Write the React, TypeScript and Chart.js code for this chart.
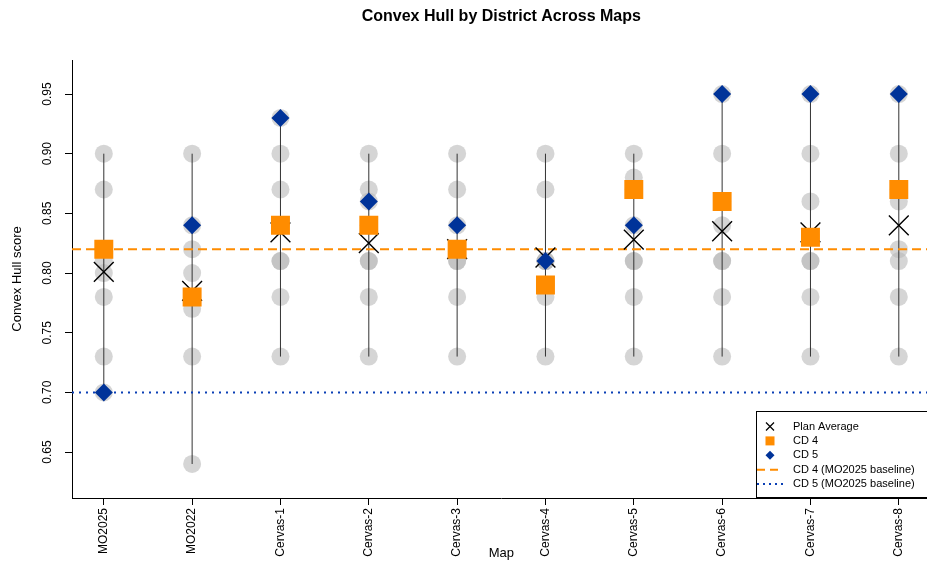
import React, { useEffect, useRef } from "react";
import { Chart, registerables } from "chart.js";

Chart.register(...registerables);

// ---------- data ----------
const maps = ["MO2025", "MO2022", "Cervas-1", "Cervas-2", "Cervas-3", "Cervas-4", "Cervas-5", "Cervas-6", "Cervas-7", "Cervas-8"];
const yTicks = [0.65, 0.7, 0.75, 0.8, 0.85, 0.9, 0.95];
const planAverage = [0.801, 0.785, 0.834, 0.825, 0.82, 0.813, 0.828, 0.835, 0.834, 0.84];
const cd4Scores = [0.82, 0.78, 0.84, 0.84, 0.82, 0.79, 0.87, 0.86, 0.83, 0.87];
const cd5Scores = [0.7, 0.84, 0.93, 0.86, 0.84, 0.81, 0.84, 0.95, 0.95, 0.95];
const cd4Baseline = 0.82;
const cd5Baseline = 0.7;
const districtScores: number[][] = [
  [0.9, 0.87, 0.82, 0.81, 0.8, 0.78, 0.73, 0.7],
  [0.9, 0.84, 0.82, 0.8, 0.78, 0.77, 0.73, 0.64],
  [0.93, 0.9, 0.87, 0.84, 0.81, 0.81, 0.78, 0.73],
  [0.9, 0.87, 0.86, 0.84, 0.81, 0.81, 0.78, 0.73],
  [0.9, 0.87, 0.84, 0.82, 0.81, 0.81, 0.78, 0.73],
  [0.9, 0.87, 0.81, 0.81, 0.81, 0.79, 0.78, 0.73],
  [0.9, 0.88, 0.87, 0.84, 0.81, 0.81, 0.78, 0.73],
  [0.95, 0.9, 0.86, 0.84, 0.81, 0.81, 0.78, 0.73],
  [0.95, 0.9, 0.86, 0.83, 0.81, 0.81, 0.78, 0.73],
  [0.95, 0.9, 0.87, 0.86, 0.82, 0.81, 0.78, 0.73],
];

const X_MIN = 0.64;
const X_MAX = 10.36;
const Y_MIN = 0.6115;
const Y_MAX = 0.9785;

const ORANGE = "#FF8C00";
const BLUE = "#003399";
const BLUE_LINE = "#0a3fb5";
const FONT = "'Liberation Sans', Arial, Helvetica, sans-serif";

const CANVAS_W = 946;
const CANVAS_H = 563;

const annotations = {
  id: "annotations",
  afterDraw(chart: any) {
    const { ctx, chartArea: ca, scales } = chart;
    const yS = scales.y;
    ctx.save();
    ctx.fillStyle = "#000";
    // title
    ctx.font = `bold 16px ${FONT}`;
    ctx.textAlign = "center";
    ctx.textBaseline = "middle";
    ctx.fillText("Convex Hull by District Across Maps", (ca.left + ca.right) / 2, 17);
    // y tick labels (rotated)
    ctx.font = `12px ${FONT}`;
    yTicks.forEach((v) => {
      const py = yS.getPixelForValue(v);
      ctx.save();
      ctx.translate(48, py);
      ctx.rotate(-Math.PI / 2);
      ctx.textAlign = "center";
      ctx.textBaseline = "middle";
      ctx.fillText(v.toFixed(2), 0, 0);
      ctx.restore();
    });
    // axis titles
    ctx.font = `13px ${FONT}`;
    ctx.save();
    ctx.translate(17, (ca.top + ca.bottom) / 2);
    ctx.rotate(-Math.PI / 2);
    ctx.textAlign = "center";
    ctx.textBaseline = "middle";
    ctx.fillText("Convex Hull score", 0, 0);
    ctx.restore();
    ctx.textAlign = "center";
    ctx.textBaseline = "middle";
    ctx.fillText("Map", (ca.left + ca.right) / 2, 553);

    // legend
    const lx = 756.5;
    const ly = 411.5;
    const rx = ca.right + 0.5;
    const by = ca.bottom - 0.5;
    ctx.fillStyle = "#fff";
    ctx.fillRect(lx, ly, rx - lx, by - ly);
    ctx.strokeStyle = "#000";
    ctx.lineWidth = 1;
    ctx.setLineDash([]);
    ctx.strokeRect(lx, ly, rx - lx, by - ly);
    const labels = ["Plan Average", "CD 4", "CD 5", "CD 4 (MO2025 baseline)", "CD 5 (MO2025 baseline)"];
    const sx = 770;
    labels.forEach((lab, k) => {
      const y = ly + 15 + k * 14.4;
      ctx.setLineDash([]);
      if (k === 0) {
        ctx.strokeStyle = "#000";
        ctx.lineWidth = 1.2;
        ctx.beginPath();
        ctx.moveTo(sx - 4, y - 4);
        ctx.lineTo(sx + 4, y + 4);
        ctx.moveTo(sx + 4, y - 4);
        ctx.lineTo(sx - 4, y + 4);
        ctx.stroke();
      } else if (k === 1) {
        ctx.fillStyle = ORANGE;
        ctx.fillRect(sx - 4.5, y - 4.5, 9, 9);
      } else if (k === 2) {
        ctx.fillStyle = BLUE;
        ctx.beginPath();
        ctx.moveTo(sx, y - 4.5);
        ctx.lineTo(sx + 4.5, y);
        ctx.lineTo(sx, y + 4.5);
        ctx.lineTo(sx - 4.5, y);
        ctx.closePath();
        ctx.fill();
      } else if (k === 3) {
        ctx.strokeStyle = ORANGE;
        ctx.lineWidth = 2;
        ctx.setLineDash([8, 5]);
        ctx.beginPath();
        ctx.moveTo(757, y);
        ctx.lineTo(783, y);
        ctx.stroke();
      } else {
        ctx.strokeStyle = BLUE_LINE;
        ctx.lineWidth = 2;
        ctx.setLineDash([2, 4]);
        ctx.beginPath();
        ctx.moveTo(757, y);
        ctx.lineTo(783, y);
        ctx.stroke();
      }
      ctx.setLineDash([]);
      ctx.fillStyle = "#000";
      ctx.font = `11px ${FONT}`;
      ctx.textAlign = "left";
      ctx.textBaseline = "middle";
      ctx.fillText(lab, 793, y);
    });
    ctx.restore();
  },
};

export default function App() {
  const ref = useRef<HTMLCanvasElement | null>(null);

  useEffect(() => {
    if (!ref.current) return;
    Chart.defaults.font.family = FONT;

    const rangeData: any[] = [];
    districtScores.forEach((arr, i) => {
      rangeData.push({ x: i + 1, y: Math.min(...arr) });
      rangeData.push({ x: i + 1, y: Math.max(...arr, cd4Scores[i], cd5Scores[i]) });
      rangeData.push({ x: i + 1, y: null });
    });
    const greyData: any[] = [];
    districtScores.forEach((arr, i) => arr.forEach((v) => greyData.push({ x: i + 1, y: v })));

    const chart = new Chart(ref.current, {
      type: "scatter",
      data: {
        datasets: [
          {
            label: "CD 5",
            data: cd5Scores.map((v, i) => ({ x: i + 1, y: v })),
            pointStyle: "rectRot",
            pointRadius: 9,
            backgroundColor: BLUE,
            borderColor: BLUE,
            borderWidth: 0,
          },
          {
            label: "CD 4",
            data: cd4Scores.map((v, i) => ({ x: i + 1, y: v })),
            pointStyle: "rect",
            pointRadius: 13.4,
            backgroundColor: ORANGE,
            borderColor: ORANGE,
            borderWidth: 0,
          },
          {
            label: "Plan Average",
            data: planAverage.map((v, i) => ({ x: i + 1, y: v })),
            pointStyle: "crossRot",
            pointRadius: 14,
            borderColor: "#000",
            backgroundColor: "#000",
            borderWidth: 1.4,
          },
          {
            label: "CD 4 baseline",
            data: [
              { x: X_MIN, y: cd4Baseline },
              { x: X_MAX, y: cd4Baseline },
            ],
            showLine: true,
            pointRadius: 0,
            borderColor: ORANGE,
            borderWidth: 2,
            borderDash: [9, 5],
          },
          {
            label: "CD 5 baseline",
            data: [
              { x: X_MIN, y: cd5Baseline },
              { x: X_MAX, y: cd5Baseline },
            ],
            showLine: true,
            pointRadius: 0,
            borderColor: BLUE_LINE,
            borderWidth: 2,
            borderDash: [2, 5],
          },
          {
            label: "range",
            data: rangeData,
            showLine: true,
            spanGaps: false,
            pointRadius: 0,
            borderColor: "#333",
            borderWidth: 1,
          },
          {
            label: "districts",
            data: greyData,
            pointStyle: "circle",
            pointRadius: 9,
            backgroundColor: "rgba(185,185,185,0.6)",
            borderWidth: 0,
          },
        ],
      },
      options: {
        animation: false,
        responsive: false,
        events: [],
        layout: { padding: { top: 60, right: 9, left: 0, bottom: 0 } },
        plugins: { legend: { display: false }, tooltip: { enabled: false }, title: { display: false } },
        scales: {
          x: {
            type: "linear",
            position: "bottom",
            min: X_MIN,
            max: X_MAX,
            afterBuildTicks: (s: any) => {
              s.ticks = maps.map((_, i) => ({ value: i + 1 }));
            },
            afterFit: (s: any) => {
              s.height = 65;
            },
            ticks: {
              autoSkip: false,
              minRotation: 90,
              maxRotation: 90,
              padding: 3,
              color: "#000",
              font: { size: 12, family: FONT },
              callback: (v: any) => maps[Math.round(Number(v)) - 1] ?? "",
            },
            grid: { display: true, drawOnChartArea: false, drawTicks: true, tickLength: 7, color: "#000", lineWidth: 1 },
            border: { display: true, color: "#000", width: 1 },
          },
          y: {
            type: "linear",
            min: Y_MIN,
            max: Y_MAX,
            afterBuildTicks: (s: any) => {
              s.ticks = yTicks.map((v) => ({ value: v }));
            },
            afterFit: (s: any) => {
              s.width = 72;
            },
            ticks: { display: false },
            grid: { display: true, drawOnChartArea: false, drawTicks: true, tickLength: 7, color: "#000", lineWidth: 1 },
            border: { display: true, color: "#000", width: 1 },
          },
        },
      },
      plugins: [annotations],
    } as any);

    return () => chart.destroy();
  }, []);

  return (
    <div style={{ position: "fixed", left: 0, top: 0, width: 927, height: 563, overflow: "hidden", background: "#fff" }}>
      <canvas ref={ref} width={CANVAS_W} height={CANVAS_H} style={{ width: CANVAS_W, height: CANVAS_H, display: "block" }} />
    </div>
  );
}
